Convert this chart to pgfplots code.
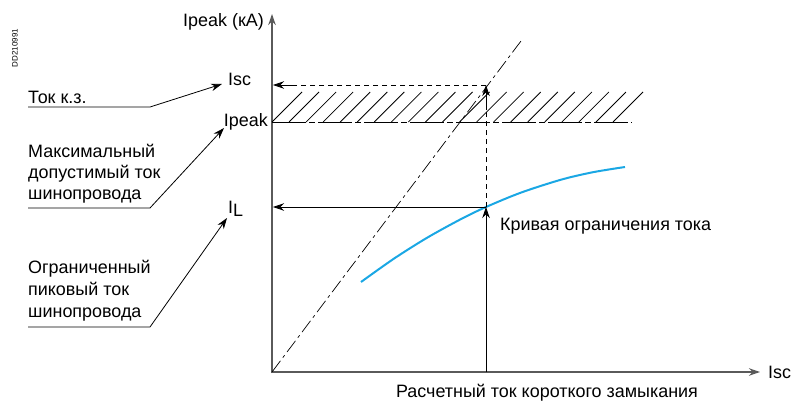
\documentclass[border=0pt]{standalone}
\usepackage{fontspec}
\setmainfont{Liberation Sans}
\usepackage{pgfplots}
\pgfplotsset{compat=1.18}
\usetikzlibrary{arrows.meta}
\definecolor{curveblue}{HTML}{1AA7E4}
\definecolor{axisgray}{HTML}{5A5A5A}

\begin{document}
\begin{tikzpicture}[font=\fontsize{18}{21}\selectfont]
\begin{axis}[
  scale only axis,
  width=792bp, height=401bp,
  xmin=0, xmax=792, ymin=0, ymax=401,
  y dir=reverse,
  hide axis,
  clip=false,
  unbounded coords=jump,
  tip/.style={-{Stealth[length=11bp,width=7.5bp]}},
]
% page frame
\addplot[draw=none] coordinates {(0,0)(792,401)};

% axes
\addplot[axisgray, line width=1.4bp, tip] coordinates {(272,373)(272,14)};
\addplot[axisgray, line width=1.4bp, tip] coordinates {(272,372)(760,372)};

% hatched zone above Ipeak
\addplot[black, line width=0.8bp] coordinates {
  (272,122)(302,92)(nan,nan)(289.05,122)(319.05,92)(nan,nan)
  (306.1,122)(336.1,92)(nan,nan)(323.15,122)(353.15,92)(nan,nan)
  (340.2,122)(370.2,92)(nan,nan)(357.25,122)(387.25,92)(nan,nan)
  (374.3,122)(404.3,92)(nan,nan)(391.35,122)(421.35,92)(nan,nan)
  (408.4,122)(438.4,92)(nan,nan)(425.45,122)(455.45,92)(nan,nan)
  (442.5,122)(472.5,92)(nan,nan)(459.55,122)(489.55,92)(nan,nan)
  (476.6,122)(506.6,92)(nan,nan)(493.65,122)(523.65,92)(nan,nan)
  (510.7,122)(540.7,92)(nan,nan)(527.75,122)(557.75,92)(nan,nan)
  (544.8,122)(574.8,92)(nan,nan)(561.85,122)(591.85,92)(nan,nan)
  (578.9,122)(608.9,92)(nan,nan)(595.95,122)(625.95,92)(nan,nan)
  (613,122)(643,92)
};
% Ipeak level line
\addplot[black, line width=0.8bp, dash pattern=on 34bp off 3bp on 6bp off 3bp]
  coordinates {(272,122)(632,122)};

% dash-dot diagonal Isc = Ipeak
\addplot[black, line width=0.7bp, dash pattern=on 14bp off 4bp on 3bp off 4bp]
  coordinates {(272,372)(521,41)};

% current limiting curve
\addplot[curveblue, line width=2bp, smooth] coordinates {
  (361,282)(394,258.6)(427,237.8)(460,219.6)(486,207)(521,192.6)
  (561,179.7)(593,172.2)(625,167)
};

% vertical from x axis to the curve and on to Isc
\addplot[black, line width=0.8bp, tip] coordinates {(486,372)(486,207)};
\addplot[black, line width=0.8bp, dash pattern=on 5bp off 4bp] coordinates {(486,207)(486,100)};
\addplot[black, line width=0.8bp, tip] coordinates {(486,110)(486,85)};
% horizontals to the y axis
\addplot[black, line width=0.8bp, tip] coordinates {(486,207)(273,207)};
\addplot[black, line width=0.8bp, dash pattern=on 5bp off 4bp] coordinates {(486,85)(290,85)};
\addplot[black, line width=0.8bp, tip] coordinates {(292,85)(273,85)};

% leader lines of the notes on the left
\addplot[black, line width=0.8bp, tip] coordinates {(28,107)(150,107)(222,84)};
\addplot[black, line width=0.8bp, tip] coordinates {(28,208)(150,208)(224,128)};
\addplot[black, line width=0.8bp, tip] coordinates {(28,327)(150,327)(227,218)};

% texts
\node[anchor=base east, inner sep=0pt] at (axis cs:264,27) {Ipeak (кА)};
\node[anchor=base west, inner sep=0pt] at (axis cs:228,85) {Isc};
\node[anchor=base east, inner sep=0pt] at (axis cs:268,126) {Ipeak};
\node[anchor=base west, inner sep=0pt] at (axis cs:228,213) {I\raisebox{-0.35ex}{L}};
\node[anchor=base west, inner sep=0pt] at (axis cs:768,378) {Isc};
\node[anchor=base west, inner sep=0pt] at (axis cs:500,230) {Кривая ограничения тока};
\node[anchor=base, inner sep=0pt] at (axis cs:547,397) {Расчетный ток короткого замыкания};

\node[anchor=base west, inner sep=0pt] at (axis cs:28,103) {Ток к.з.};
\node[anchor=base west, inner sep=0pt] at (axis cs:28,157) {Максимальный};
\node[anchor=base west, inner sep=0pt] at (axis cs:28,178) {допустимый ток};
\node[anchor=base west, inner sep=0pt] at (axis cs:28,199) {шинопровода};
\node[anchor=base west, inner sep=0pt] at (axis cs:28,273) {Ограниченный};
\node[anchor=base west, inner sep=0pt] at (axis cs:28,295) {пиковый ток};
\node[anchor=base west, inner sep=0pt] at (axis cs:28,317) {шинопровода};

\node[rotate=90, inner sep=0pt, font=\fontsize{8}{9}\selectfont] at (axis cs:15,48) {DD210991};
\end{axis}
\end{tikzpicture}
\end{document}
